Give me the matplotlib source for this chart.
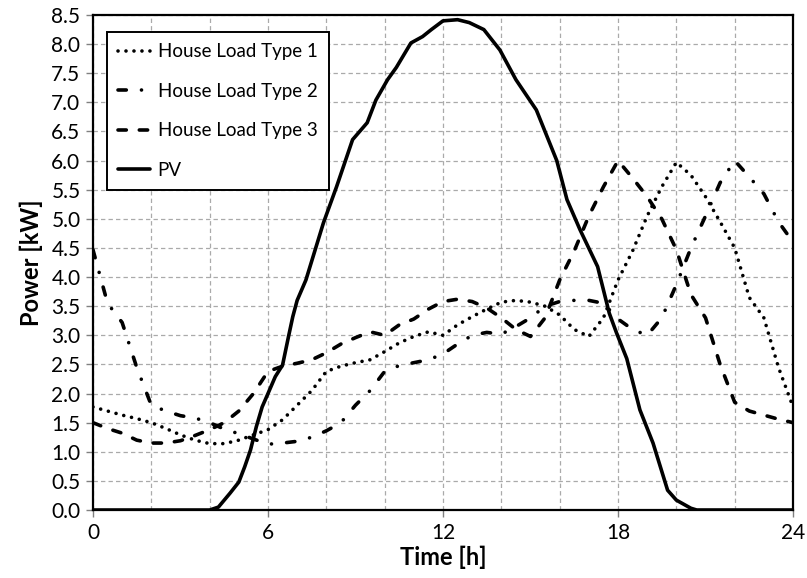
import numpy as np
import matplotlib
matplotlib.use("Agg")
import matplotlib.pyplot as plt
from matplotlib.ticker import MultipleLocator

plt.rcParams['font.family'] = ['Lato', 'DejaVu Sans']

hours = [0, 0.5, 1, 1.5, 2, 2.5, 3, 3.5, 4, 4.5, 5, 5.5, 6, 6.5, 7, 7.5, 8, 8.5,
         9, 9.5, 10, 10.5, 11, 11.5, 12, 12.5, 13, 13.5, 14, 14.5, 15, 15.5, 16,
         16.5, 17, 17.5, 18, 18.5, 19, 19.5, 20, 20.5, 21, 21.5, 22, 22.5, 23,
         23.5, 24]

load_type1 = [1.77, 1.70, 1.63, 1.57, 1.50, 1.40, 1.29, 1.20, 1.14, 1.14, 1.20,
              1.29, 1.38, 1.55, 1.80, 2.05, 2.38, 2.47, 2.53, 2.58, 2.72, 2.87,
              2.98, 3.06, 3.00, 3.18, 3.32, 3.45, 3.57, 3.60, 3.57, 3.50, 3.35,
              3.10, 2.98, 3.30, 3.95, 4.45, 5.05, 5.55, 5.97, 5.75, 5.38, 4.95,
              4.50, 3.65, 3.30, 2.45, 1.77]

load_type2 = [4.47, 3.55, 3.22, 2.45, 1.80, 1.70, 1.62, 1.58, 1.50, 1.39, 1.31,
              1.22, 1.13, 1.15, 1.18, 1.25, 1.36, 1.50, 1.80, 2.05, 2.38, 2.48,
              2.53, 2.58, 2.68, 2.85, 3.00, 3.05, 3.02, 3.15, 3.30, 3.50, 3.58,
              3.60, 3.60, 3.55, 3.28, 3.10, 3.00, 3.30, 3.87, 4.50, 5.05, 5.62,
              6.00, 5.72, 5.43, 4.95, 4.60]

load_type3 = [1.50, 1.40, 1.32, 1.20, 1.15, 1.15, 1.19, 1.28, 1.38, 1.50, 1.70,
              2.00, 2.38, 2.47, 2.52, 2.58, 2.70, 2.85, 2.96, 3.06, 3.00, 3.18,
              3.28, 3.45, 3.58, 3.62, 3.58, 3.47, 3.30, 3.10, 2.98, 3.30, 3.95,
              4.45, 5.05, 5.55, 6.00, 5.70, 5.38, 5.00, 4.47, 3.70, 3.30, 2.50,
              1.85, 1.70, 1.63, 1.56, 1.50]

pv_hours = [0, 4.0, 4.3, 4.7, 5.0, 5.2, 5.4, 5.6, 5.8, 6.0, 6.25, 6.5, 6.7, 6.85,
            7.0, 7.3, 7.9, 8.35, 8.9, 9.4, 9.7, 10.1, 10.4, 10.9, 11.3, 11.6,
            12.0, 12.5, 12.9, 13.4, 13.95, 14.5, 15.2, 15.9, 16.25, 16.7, 17.3,
            17.7, 17.95, 18.3, 18.75, 19.2, 19.7, 20.0, 20.5, 20.7, 24]
pv_power = [0, 0, 0.05, 0.29, 0.48, 0.74, 1.03, 1.43, 1.77, 2.0, 2.29, 2.49, 2.97,
            3.32, 3.6, 3.95, 4.93, 5.55, 6.36, 6.65, 7.04, 7.39, 7.6, 8.02, 8.13,
            8.25, 8.4, 8.42, 8.37, 8.25, 7.9, 7.39, 6.87, 6.0, 5.33, 4.81, 4.18,
            3.38, 3.04, 2.6, 1.72, 1.15, 0.34, 0.17, 0.03, 0, 0]

labels = ["House Load Type 1", "House Load Type 2", "House Load Type 3", "PV"]

fig = plt.figure(figsize=(8.07, 5.78), dpi=100)
ax = fig.add_axes([0.1152, 0.1176, 0.8675, 0.8564])

lw = 2.6
ax.plot(hours, load_type1, color='black', lw=lw, linestyle=(0, (0.01, 2.2)),
        dash_capstyle='round', label=labels[0])
ax.plot(hours, load_type2, color='black', lw=lw, linestyle=(0, (2.3, 4.2, 0.01, 4.2)),
        dash_capstyle='round', label=labels[1])
ax.plot(hours, load_type3, color='black', lw=lw, linestyle=(0, (2.3, 3.6)),
        dash_capstyle='round', label=labels[2])
ax.plot(pv_hours, pv_power, color='black', lw=lw, solid_capstyle='round',
        label=labels[3])

ax.set_xlim(0, 24)
ax.set_ylim(0, 8.5)
ax.xaxis.set_major_locator(MultipleLocator(6))
ax.xaxis.set_minor_locator(MultipleLocator(2))
ax.yaxis.set_major_locator(MultipleLocator(0.5))
ax.yaxis.set_major_formatter(matplotlib.ticker.FormatStrFormatter('%.1f'))

ax.grid(True, which='both', axis='x', color='#aaaaaa', linestyle=(0, (3.5, 2.5)), lw=0.9)
ax.grid(True, which='major', axis='y', color='#aaaaaa', linestyle=(0, (3.5, 2.5)), lw=0.9)
ax.set_axisbelow(True)

for s in ax.spines.values():
    s.set_linewidth(1.6)
    s.set_color('black')

ax.tick_params(axis='both', which='major', labelsize=15, length=5, width=1,
               color='#808080', direction='out', pad=4)
ax.tick_params(axis='x', which='minor', length=0)

ax.set_xlabel("Time [h]", fontsize=17, fontweight='bold', labelpad=2)
ax.set_ylabel("Power [kW]", fontsize=17, fontweight='bold', labelpad=6)

leg = ax.legend(loc='upper left', bbox_to_anchor=(0.02, 0.966), borderaxespad=0,
                fontsize=13.5, frameon=True, fancybox=False, edgecolor='black',
                handlelength=1.7, labelspacing=1.2, borderpad=0.6,
                handletextpad=0.4)
leg.get_frame().set_linewidth(1.4)
leg.get_frame().set_alpha(1)

fig.savefig("out.png", dpi=100)
